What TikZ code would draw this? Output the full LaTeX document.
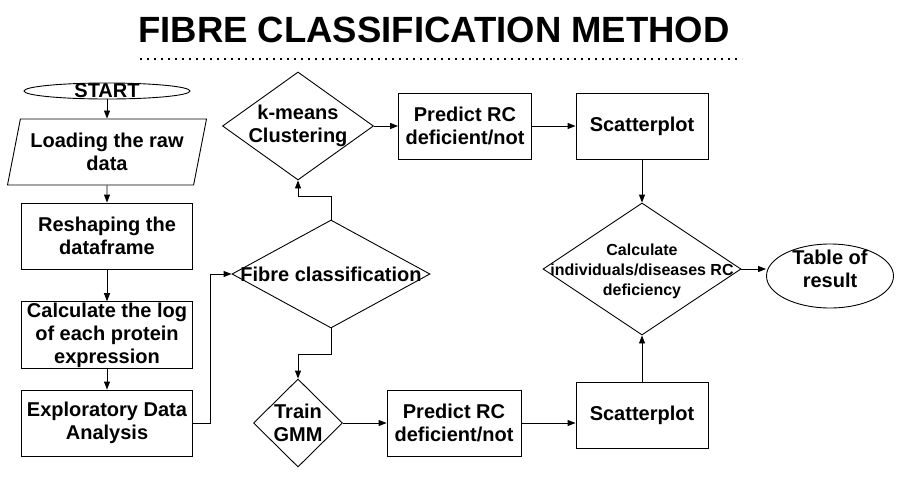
\documentclass[tikz,border=0pt]{standalone}
\usepackage{fontspec}
\setmainfont{Liberation Sans}
\usepackage{tikz}
\usetikzlibrary{shapes.geometric, arrows.meta, positioning}

\begin{document}
\begin{tikzpicture}[x=1pt, y=-1pt,
    txt/.style={font=\fontsize{20}{23}\selectfont\bfseries, align=center},
    small/.style={font=\fontsize{16}{20}\selectfont\bfseries, align=center},
    block/.style={rectangle, draw, line width=0.9pt, minimum width=171pt, minimum height=66pt, inner sep=1pt, txt},
    io/.style={trapezium, trapezium left angle=72, trapezium right angle=108, trapezium stretches body=true, draw, line width=0.9pt, minimum width=199pt, minimum height=66pt, inner sep=1pt, txt},
    decision/.style={diamond, draw, line width=0.9pt, inner sep=0pt},
    terminal/.style={ellipse, draw, line width=0.9pt, inner sep=0pt},
    edge/.style={-{Triangle[length=8pt, width=6pt]}, line width=0.9pt}
    ]
    \useasboundingbox (0,0) rectangle (904,488);

    % title
    \node[font=\fontsize{36.5}{40}\selectfont\bfseries] (title) at (434,30) {FIBRE CLASSIFICATION METHOD};
    \coordinate (ruleL) at (140,59);
    \coordinate (ruleR) at (742,59);
    \draw[line width=1.8pt, dash pattern=on 1.8pt off 5.2pt] (ruleL) -- (ruleR);

    % left column
    \node[terminal, minimum width=166pt, minimum height=16pt, label={[txt]center:START}] (start) at (107,91) {};
    \node[io] (load) at (107,152) {Loading the raw\\data};
    \node[block] (reshape) at (107,236) {Reshaping the\\dataframe};
    \node[block] (logexp) at (107,335) {Calculate the log\\of each protein\\expression};
    \node[block] (eda) at (107,423) {Exploratory Data\\Analysis};

    % decisions
    \node[decision, minimum width=198pt, minimum height=108pt, label={[txt]center:Fibre classification}] (fibre) at (331,274) {};
    \node[decision, minimum width=151pt, minimum height=108pt, label={[txt]center:k-means\\Clustering}] (kmeans) at (298,126) {};
    \node[decision, minimum width=89pt, minimum height=88pt, label={[txt]center:Train\\GMM}] (gmm) at (298,423) {};
    \node[decision, minimum width=198pt, minimum height=132pt, label={[small, yshift=-2pt]center:Calculate\\individuals/diseases RC\\deficiency}] (calc) at (642,269) {};

    % right side
    \node[block, minimum width=133pt] (predtop) at (465,126) {Predict RC\\deficient/not};
    \node[block, minimum width=132pt] (scattop) at (642,126) {Scatterplot};
    \node[block, minimum width=134pt] (predbot) at (454,423) {Predict RC\\deficient/not};
    \node[block, minimum width=132pt] (scatbot) at (642,415) {Scatterplot};
    \node[terminal, minimum width=127pt, minimum height=64pt, label={[txt, yshift=7pt]center:Table of\\result}] (result) at (830,276) {};

    % connectors
    \draw[edge] (start) -- (load);
    \draw[edge] (load) -- (reshape);
    \draw[edge] (reshape) -- (logexp);
    \draw[edge] (logexp) -- (eda);
    \draw[edge] (eda.east) -- ++(17,0) |- (fibre.west);
    \draw[edge] (fibre.north) -- ++(0,-23) -| (kmeans.south);
    \draw[edge] (fibre.south) -- ++(0,26) -| (gmm.north);
    \draw[edge] (kmeans) -- (predtop);
    \draw[edge] (predtop) -- (scattop);
    \draw[edge] (scattop) -- (calc);
    \draw[edge] (calc.east) -- (calc.east -| result.west);
    \draw[edge] (gmm) -- (predbot);
    \draw[edge] (predbot.east) -- (predbot.east -| scatbot.west);
    \draw[edge] (scatbot) -- (calc);

\end{tikzpicture}
\end{document}
